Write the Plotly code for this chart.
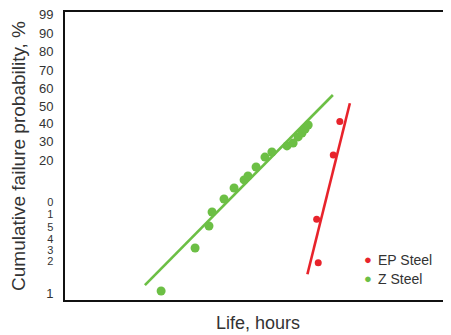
import plotly.graph_objects as go

# ---- data (arbitrary plot units) ----
y_tick_labels = ["99", "90", "80", "70", "60", "50", "40", "30", "20",
                 "0", "1", "5", "4", "3", "2", "1"]
y_tick_vals = [15.89, 14.83, 13.81, 12.78, 11.78, 10.78, 9.81, 8.81, 7.78,
               5.47, 4.83, 4.11, 3.42, 2.81, 2.22, 0.39]
crowded_labels = {9, 10, 11, 12, 13, 14}

z_life = [2.49, 3.37, 3.73, 3.81, 4.12, 4.38, 4.64, 4.74, 4.95, 5.18, 5.36,
          5.75, 5.91, 6.04, 6.14, 6.22, 6.30]
z_prob = [0.50, 2.89, 4.11, 4.89, 5.61, 6.22, 6.67, 6.89, 7.39, 7.94, 8.22,
          8.56, 8.72, 9.06, 9.28, 9.50, 9.72]
z_fit_life = [2.07, 6.94]
z_fit_prob = [0.83, 11.39]

ep_life = [6.56, 6.52, 6.95, 7.12]
ep_prob = [2.07, 4.48, 8.06, 9.91]
ep_fit_life = [6.28, 7.38]
ep_fit_prob = [1.43, 10.93]

series_names = ["EP Steel", "Z Steel"]

GREEN = "#6cbf45"
RED = "#e8232b"
TEXT = "#333333"
FONT = "Liberation Sans, Arial, sans-serif"

tick_text = [
    f'<span style="font-size:11px">{t}</span>' if i in crowded_labels else t
    for i, t in enumerate(y_tick_labels)
]

fig = go.Figure()
fig.add_trace(go.Scatter(x=z_fit_life, y=z_fit_prob, mode="lines",
                         line=dict(color=GREEN, width=2.6), showlegend=False,
                         hoverinfo="skip"))
fig.add_trace(go.Scatter(x=ep_fit_life, y=ep_fit_prob, mode="lines",
                         line=dict(color=RED, width=2.6), showlegend=False,
                         hoverinfo="skip"))
fig.add_trace(go.Scatter(x=ep_life, y=ep_prob, mode="markers",
                         name=series_names[0], showlegend=False,
                         marker=dict(color=RED, size=7)))
fig.add_trace(go.Scatter(x=z_life, y=z_prob, mode="markers",
                         name=series_names[1], showlegend=False,
                         marker=dict(color=GREEN, size=9)))

# legend drawn as key annotations (compact marker-to-text spacing)
legend_rows = [(series_names[0], RED, 0.139), (series_names[1], GREEN, 0.073)]
for name, color, yp in legend_rows:
    fig.add_annotation(xref="paper", yref="paper", x=0.786, y=yp,
                       text="●", showarrow=False, xanchor="center",
                       yanchor="middle", font=dict(size=13, color=color))
    fig.add_annotation(xref="paper", yref="paper", x=0.806, y=yp,
                       text=name, showarrow=False, xanchor="left",
                       yanchor="middle", font=dict(size=14, color=TEXT))

fig.update_layout(
    width=443, height=327,
    margin=dict(l=57, r=0, t=4, b=35),
    plot_bgcolor="white", paper_bgcolor="white",
    font=dict(family=FONT, color=TEXT),
    showlegend=False,
)
fig.update_xaxes(range=[0, 10], showgrid=False, zeroline=False,
                 showticklabels=False, ticks="", automargin=False,
                 showline=True, linecolor="#111111", linewidth=2, mirror=True,
                 title=dict(text="Life, hours", font=dict(size=18, color=TEXT),
                            standoff=15))
fig.update_yaxes(range=[0, 16], showgrid=False, zeroline=False,
                 tickmode="array", tickvals=y_tick_vals, ticktext=tick_text,
                 tickfont=dict(size=13, color=TEXT), ticks="",
                 ticklabelstandoff=7, ticklabeloverflow="allow",
                 automargin=False,
                 showline=True, linecolor="#111111", linewidth=2,
                 title=dict(text="Cumulative failure probability, %",
                            font=dict(size=19, color=TEXT), standoff=15))

fig.write_html("out.html")
